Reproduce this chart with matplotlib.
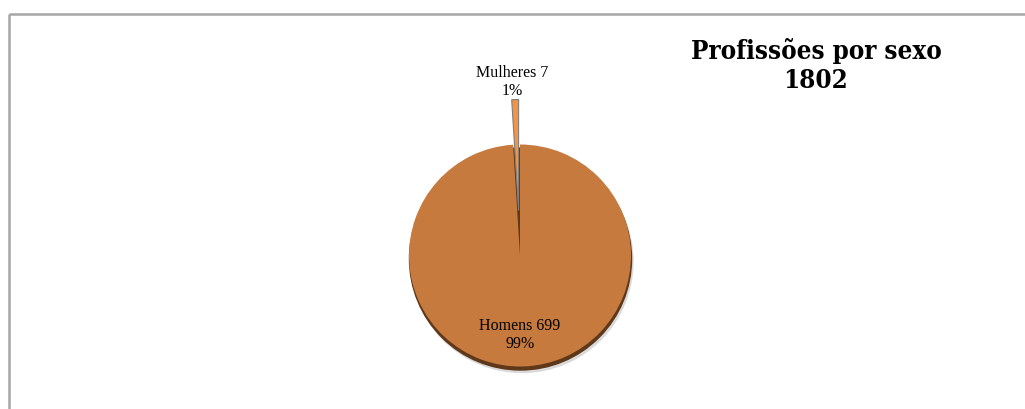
import matplotlib.pyplot as plt
from matplotlib.patches import Circle

categories = ["Homens", "Mulheres"]
values = [699, 7]
percent_labels = ["99%", "1%"]
title = "Profissões por sexo\n1802"

W, H = 1025, 409
fig = plt.figure(figsize=(W / 100, H / 100), dpi=100)
ax = fig.add_axes([0, 0, 1, 1])

# frame (top and left edges visible)
ax.plot([8.5, 8.5], [0, H - 13.5], color='#a6a6a6', lw=1.8, solid_capstyle='butt')
ax.plot([8.5, W], [H - 13.5, H - 13.5], color='#a6a6a6', lw=1.8, solid_capstyle='butt')

cx, cy, r = 520, H - 255.5, 111
# shadow
ax.add_patch(Circle((cx + 2, cy - 6), r, color='#d0d0d0', zorder=0.5, alpha=0.7))
ax.add_patch(Circle((cx + 0.5, cy - 3.5), r, color='#5e3819', zorder=1))

wedges, _ = ax.pie(values, colors=['#c77a3e', '#f29445'], startangle=90,
                   counterclock=False, center=(cx, cy), radius=r,
                   explode=[0, 45], frame=True,
                   wedgeprops=dict(linewidth=0))
for w in wedges:
    w.set_zorder(2)
wedges[1].set_edgecolor('#7f7f7f')
wedges[1].set_linewidth(0.8)
ax.set_xlim(0, W)
ax.set_ylim(0, H)
ax.set_aspect('equal')
ax.axis('off')

font = ['Liberation Serif', 'DejaVu Serif']
ax.text(512, H - 82, f"{categories[1]} {values[1]}\n{percent_labels[1]}",
        ha='center', va='center', fontsize=11.5, family=font, linespacing=1.15, zorder=5)
ax.text(520, H - 335, f"{categories[0]} {values[0]}\n{percent_labels[0]}",
        ha='center', va='center', fontsize=11.5, family=font, linespacing=1.2, zorder=5)

ax.text(816, H - 66, title, ha='center', va='center', fontsize=18.5,
        fontweight='bold', fontstretch='condensed', family=['DejaVu Serif'],
        linespacing=1.2)

fig.savefig('out.png', dpi=100)
